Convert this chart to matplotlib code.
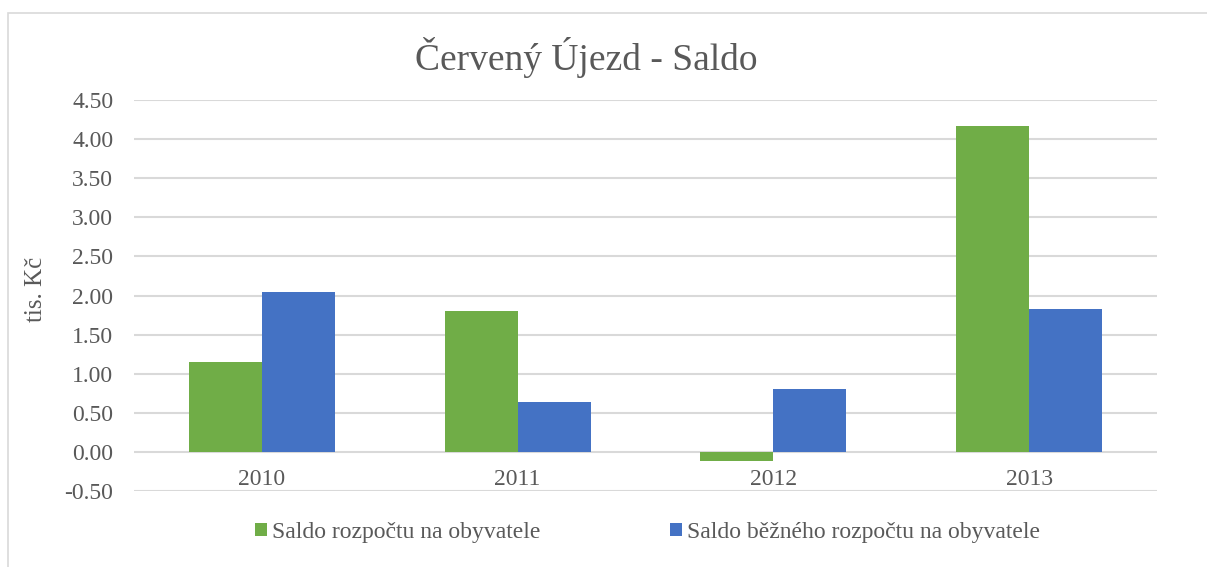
"""Červený Újezd - Saldo: sloupcový graf."""

import matplotlib.pyplot as plt
import numpy as np
from matplotlib.patches import Rectangle

# data
years = ["2010", "2011", "2012", "2013"]
saldo_rozpoctu = [1.15, 1.80, -0.11, 4.17]
saldo_bezneho = [2.05, 0.64, 0.81, 1.83]
series_names = ["Saldo rozpočtu na obyvatele", "Saldo běžného rozpočtu na obyvatele"]
y_ticks = [-0.5, 0.0, 0.5, 1.0, 1.5, 2.0, 2.5, 3.0, 3.5, 4.0, 4.5]

GREEN = "#70ad47"
BLUE = "#4472c4"
TEXT = "#595959"
GRID = "#d9d9d9"

plt.rcParams["font.family"] = ["Liberation Serif", "DejaVu Serif"]

fig = plt.figure(figsize=(12.07, 5.67), dpi=100)

# rámeček grafu
fig.patches.append(
    Rectangle((7.5 / 1207, -0.1), 1.2, (567 - 13) / 567 + 0.1, transform=fig.transFigure,
              fill=False, edgecolor=GRID, linewidth=1.2)
)

ax = fig.add_axes([134 / 1207, 1 - 491 / 567, (1157 - 134) / 1207, (491 - 100) / 567])

x = np.arange(len(years))
w = 0.285
ax.bar(x - w / 2, saldo_rozpoctu, width=w, color=GREEN, label=series_names[0], zorder=3)
ax.bar(x + w / 2, saldo_bezneho, width=w, color=BLUE, label=series_names[1], zorder=3)

ax.set_xlim(-0.5, len(years) - 0.5)
ax.set_ylim(-0.5, 4.5)
ax.set_yticks(y_ticks)
ax.set_yticklabels([f"{v:.2f}" for v in y_ticks])
ax.set_xticks(x)
ax.set_xticklabels(years)
ax.tick_params(axis="both", length=0, labelsize=17, colors=TEXT)
ax.tick_params(axis="y", pad=15)
# popisky kategorií hned pod nulovou osou (nad spodní mřížkou)
ax.tick_params(axis="x", pad=-16)

ax.grid(axis="y", color=GRID, linewidth=1.5, zorder=0)
for s in ax.spines.values():
    s.set_visible(False)

ax.set_ylabel("tis. Kč", fontsize=18, color=TEXT)
ax.yaxis.set_label_coords(-0.085, 0.515)
fig.text(0.486, 0.899, "Červený Újezd - Saldo", ha="center", va="center",
         fontsize=27, color=TEXT)

leg = ax.legend(loc="center", bbox_to_anchor=(0.502, -0.106), ncol=2, frameon=False,
                fontsize=17, handlelength=0.5, handleheight=0.5, handletextpad=0.2,
                columnspacing=5.5, labelcolor=TEXT)

fig.savefig("out.png", dpi=100)
